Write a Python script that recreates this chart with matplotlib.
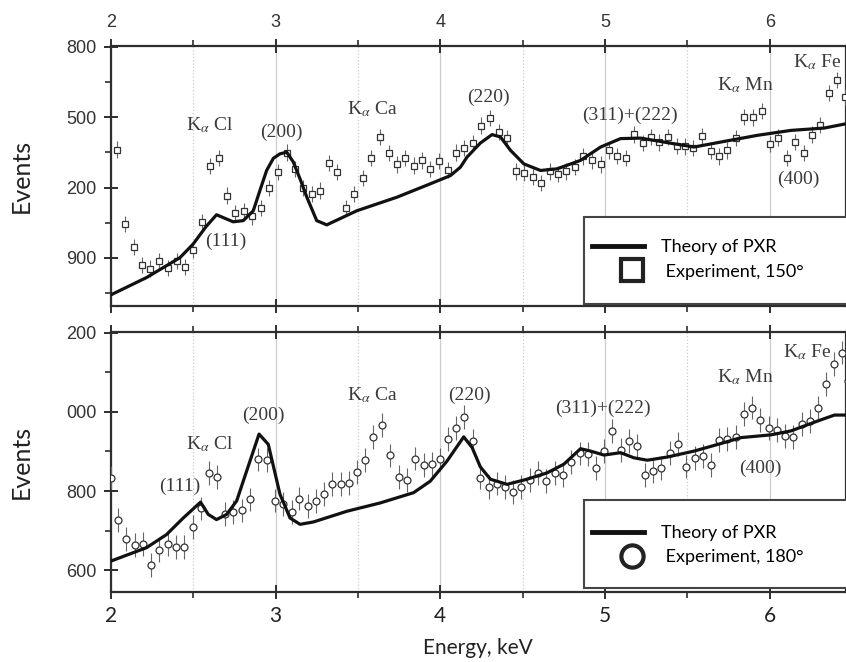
import numpy as np
import matplotlib
matplotlib.use('Agg')
import matplotlib.pyplot as plt
from matplotlib.lines import Line2D
from matplotlib.patches import Rectangle
from matplotlib.legend_handler import HandlerLine2D
from matplotlib.ticker import MultipleLocator, FixedLocator


# ---- data ----
# top panel, 150 deg
e_exp_150 = [2.038, 2.089, 2.140, 2.190, 2.241, 2.294, 2.347, 2.400, 2.448, 2.500,
             2.551, 2.602, 2.655, 2.707, 2.756, 2.808, 2.859, 2.910, 2.962, 3.015,
             3.068, 3.119, 3.169, 3.220, 3.271, 3.325, 3.376, 3.427, 3.477, 3.530,
             3.582, 3.635, 3.686, 3.737, 3.787, 3.838, 3.889, 3.939, 3.992, 4.044,
             4.097, 4.146, 4.198, 4.248, 4.304, 4.355, 4.405, 4.458, 4.509, 4.561,
             4.610, 4.663, 4.713, 4.764, 4.817, 4.868, 4.920, 4.973, 5.023, 5.074,
             5.125, 5.175, 5.228, 5.279, 5.329, 5.382, 5.435, 5.485, 5.536, 5.589,
             5.640, 5.690, 5.741, 5.793, 5.844, 5.897, 5.950, 6.000, 6.050, 6.103,
             6.154, 6.205, 6.255, 6.306, 6.357, 6.407, 6.458]
n_exp_150 = [1362, 1044, 947, 869, 854, 887, 856, 887, 861, 933,
             1054, 1291, 1326, 1166, 1092, 1101, 1077, 1113, 1199, 1266,
             1349, 1280, 1197, 1173, 1187, 1304, 1266, 1114, 1173, 1242,
             1327, 1416, 1347, 1299, 1327, 1294, 1316, 1279, 1314, 1276,
             1349, 1369, 1390, 1464, 1496, 1437, 1411, 1269, 1263, 1244,
             1219, 1269, 1259, 1269, 1287, 1333, 1316, 1299, 1359, 1334,
             1327, 1427, 1390, 1416, 1393, 1416, 1377, 1376, 1370, 1419,
             1356, 1333, 1359, 1411, 1501, 1499, 1526, 1387, 1413, 1326,
             1394, 1347, 1426, 1466, 1604, 1659, 1587]
err_150 = 35

e_th_150 = [2.000, 2.217, 2.420, 2.500, 2.580, 2.642, 2.743, 2.804, 2.865, 2.905,
            2.946, 2.987, 3.027, 3.068, 3.108, 3.150, 3.190, 3.250, 3.311, 3.493,
            3.737, 3.939, 4.061, 4.122, 4.162, 4.243, 4.314, 4.365, 4.426, 4.507,
            4.608, 4.709, 4.851, 4.973, 5.094, 5.216, 5.418, 5.540, 5.723, 5.925,
            6.128, 6.330, 6.468]
n_th_150 = [742, 816, 901, 959, 1035, 1084, 1054, 1059, 1101, 1187,
            1273, 1325, 1344, 1351, 1309, 1235, 1159, 1059, 1041, 1101,
            1159, 1216, 1251, 1287, 1330, 1390, 1426, 1416, 1359, 1301,
            1273, 1280, 1316, 1373, 1409, 1411, 1387, 1373, 1397, 1423,
            1444, 1454, 1473]

# bottom panel, 180 deg
e_exp_180 = [2.000, 2.044, 2.095, 2.146, 2.196, 2.243, 2.294, 2.345, 2.395, 2.446,
             2.497, 2.547, 2.598, 2.643, 2.693, 2.743, 2.795, 2.845, 2.895, 2.946,
             2.997, 3.047, 3.098, 3.145, 3.196, 3.246, 3.297, 3.345, 3.396, 3.445,
             3.493, 3.544, 3.594, 3.646, 3.696, 3.747, 3.798, 3.848, 3.899, 3.950,
             3.996, 4.044, 4.095, 4.146, 4.196, 4.243, 4.294, 4.345, 4.395, 4.442,
             4.492, 4.543, 4.594, 4.644, 4.695, 4.743, 4.795, 4.845, 4.896, 4.946,
             4.993, 5.044, 5.094, 5.145, 5.196, 5.242, 5.291, 5.341, 5.392, 5.443,
             5.493, 5.544, 5.594, 5.641, 5.692, 5.742, 5.793, 5.844, 5.891, 5.942,
             5.992, 6.043, 6.091, 6.142, 6.193, 6.243, 6.294, 6.341, 6.392, 6.438,
             6.475]
n_exp_180 = [834, 727, 679, 663, 667, 614, 650, 667, 659, 659,
             709, 756, 846, 836, 743, 748, 751, 779, 880, 878,
             776, 768, 748, 781, 762, 775, 792, 817, 817, 821,
             848, 878, 937, 966, 890, 835, 828, 882, 865, 869,
             880, 931, 960, 988, 927, 834, 811, 819, 811, 798,
             811, 828, 845, 825, 845, 841, 874, 895, 894, 859,
             901, 952, 904, 927, 914, 841, 851, 859, 897, 918,
             862, 884, 889, 866, 929, 932, 937, 994, 1011, 980,
             960, 954, 939, 937, 970, 977, 1009, 1070, 1121, 1150,
             1078]
err_180 = 30

e_th_180 = [2.000, 2.217, 2.338, 2.440, 2.545, 2.592, 2.642, 2.703, 2.764, 2.825,
            2.900, 2.956, 3.027, 3.088, 3.149, 3.230, 3.433, 3.635, 3.838, 3.939,
            4.041, 4.142, 4.193, 4.243, 4.304, 4.405, 4.527, 4.648, 4.750, 4.851,
            4.912, 4.993, 5.094, 5.175, 5.256, 5.378, 5.540, 5.702, 5.824, 6.006,
            6.128, 6.290, 6.392, 6.468]
n_th_180 = [623, 657, 690, 732, 772, 741, 728, 741, 775, 851,
            944, 918, 792, 732, 716, 722, 749, 770, 796, 825,
            876, 937, 910, 861, 830, 817, 830, 846, 868, 907,
            901, 891, 897, 884, 878, 886, 901, 920, 935, 942,
            952, 977, 992, 992]

# tick labels as printed (leading digits cut off in the original)
yt_150 = [900, 1200, 1500, 1800]
yt_150_lab = ['900', '200', '500', '800']
yt_180 = [600, 800, 1000, 1200]
yt_180_lab = ['600', '800', '000', '200']

# peak labels: (text, energy, events)
lab_150 = [(r'K$_\alpha$ Cl', 2.60, 1466), ('(200)', 3.033, 1436), ('(111)', 2.70, 969),
           (r'K$_\alpha$ Ca', 3.587, 1534), ('(220)', 4.29, 1586), ('(311)+(222)', 5.149, 1509),
           (r'K$_\alpha$ Mn', 5.85, 1637), ('(400)', 6.17, 1234), (r'K$_\alpha$ Fe', 6.286, 1736)]
lab_180 = [(r'K$_\alpha$ Cl', 2.60, 919), ('(111)', 2.42, 813), ('(200)', 2.924, 992),
           (r'K$_\alpha$ Ca', 3.587, 1043), ('(220)', 4.176, 1043), ('(311)+(222)', 4.985, 1008),
           (r'K$_\alpha$ Mn', 5.85, 1089), ('(400)', 5.945, 858), (r'K$_\alpha$ Fe', 6.23, 1150)]


plt.rcParams['font.family'] = 'Liberation Sans'
plt.rcParams['mathtext.fontset'] = 'stix'

dark = '#2e2e2e'


class ShiftMarker(HandlerLine2D):
    # move the legend marker a bit to the right like in the original
    def create_artists(self, legend, orig_handle, xdescent, ydescent, width, height, fontsize, trans):
        arts = super().create_artists(legend, orig_handle, xdescent, ydescent, width, height, fontsize, trans)
        for a in arts:
            a.set_xdata(np.asarray(a.get_xdata()) + 0.27 * width)
        return arts


def style_axes(ax, yticks, ylabels, ylim):
    ax.set_xlim(2, 6.462)
    ax.set_ylim(*ylim)
    ax.xaxis.set_major_locator(MultipleLocator(1))
    ax.xaxis.set_minor_locator(MultipleLocator(0.5))
    ax.yaxis.set_major_locator(FixedLocator(yticks))
    ax.set_yticklabels(ylabels)
    step = (yticks[1] - yticks[0]) / 2
    ax.yaxis.set_minor_locator(MultipleLocator(step))
    ax.grid(True, which='major', axis='x', color='#cccccc', lw=0.9, ls='-')
    ax.grid(True, which='minor', axis='x', color='#cccccc', lw=0.9, ls=':')
    ax.set_axisbelow(True)
    for s in ax.spines.values():
        s.set_color(dark)
        s.set_linewidth(1.6)
    ax.tick_params(which='major', direction='inout', length=10, width=1.4, color=dark)
    ax.tick_params(which='minor', direction='out', length=4, width=1.2, color=dark)
    ax.tick_params(axis='y', which='both', left=True, right=False, labelsize=13,
                   labelcolor='#333333', pad=5)
    ax.tick_params(axis='x', which='both', top=True, bottom=True)
    ax.set_ylabel('Events', family='Lato', fontsize=18, color='#222222')
    ax.yaxis.set_label_coords(-0.106, 0.5)


fig = plt.figure(figsize=(8.46, 6.62), dpi=100)
ax1 = fig.add_axes([0.1309, 0.5382, 0.8691, 0.3923])
ax2 = fig.add_axes([0.1309, 0.1057, 0.8691, 0.3923])

style_axes(ax1, yt_150, yt_150_lab, (696, 1804))
style_axes(ax2, yt_180, yt_180_lab, (545, 1201))

ax1.tick_params(axis='x', labeltop=True, labelbottom=False, labelsize=13,
                labelcolor='#333333', pad=6)
ax2.tick_params(axis='x', labeltop=False, labelbottom=True, labelsize=15,
                labelcolor='#222222', pad=5)
for t in ax2.get_xticklabels():
    t.set_family('Lato')
ax2.set_xlabel('Energy, keV', family='Lato', fontsize=15, color='#222222', labelpad=9)

# experiment
ax1.errorbar(e_exp_150, n_exp_150, yerr=err_150, fmt='s', ms=4.5, mfc='white',
             mec='#333333', mew=0.9, ecolor='#666666', elinewidth=0.8, capsize=0, zorder=3)
ax2.errorbar(e_exp_180, n_exp_180, yerr=err_180, fmt='o', ms=5, mfc='white',
             mec='#333333', mew=0.9, ecolor='#666666', elinewidth=0.8, capsize=0, zorder=3)

# theory
ax1.plot(e_th_150, n_th_150, color='#111111', lw=2.3, zorder=4)
ax2.plot(e_th_180, n_th_180, color='#111111', lw=2.3, zorder=4)

for ax, labs in ((ax1, lab_150), (ax2, lab_180)):
    for txt, x, y in labs:
        ax.text(x, y, txt, family='Liberation Serif', fontsize=14, color='#3a3a3a',
                ha='center', va='center', zorder=5)

# legends: a plain box that runs off the right edge, entries placed inside it
for ax, mk, lab, box_y, top_y in ((ax1, 's', ' Experiment, 150°', (0.0065, 0.3415), 0.255),
                                  (ax2, 'o', ' Experiment, 180°', (0.0154, 0.354), 0.258)):
    box = Rectangle((0.6437, box_y[0]), 0.5, box_y[1] - box_y[0], transform=ax.transAxes,
                    facecolor='white', edgecolor='#444444', lw=1.5, zorder=6, clip_on=False)
    ax.add_patch(box)
    h_line = Line2D([], [], color='#111111', lw=3.5)
    h_mark = Line2D([], [], ls='none', marker=mk, ms=16, mfc='white', mec='#222222', mew=3)
    leg = ax.legend(handles=[h_line, h_mark], labels=['Theory of PXR', lab],
                    loc='upper left', bbox_to_anchor=(0.6546, top_y),
                    handler_map={h_mark: ShiftMarker()}, handlelength=2.9, handletextpad=0.9,
                    borderpad=0, labelspacing=0.45, borderaxespad=0,
                    prop=dict(family='Lato', size=13), frameon=False)
    leg.set_zorder(7)

fig.savefig('out.png', dpi=100)
